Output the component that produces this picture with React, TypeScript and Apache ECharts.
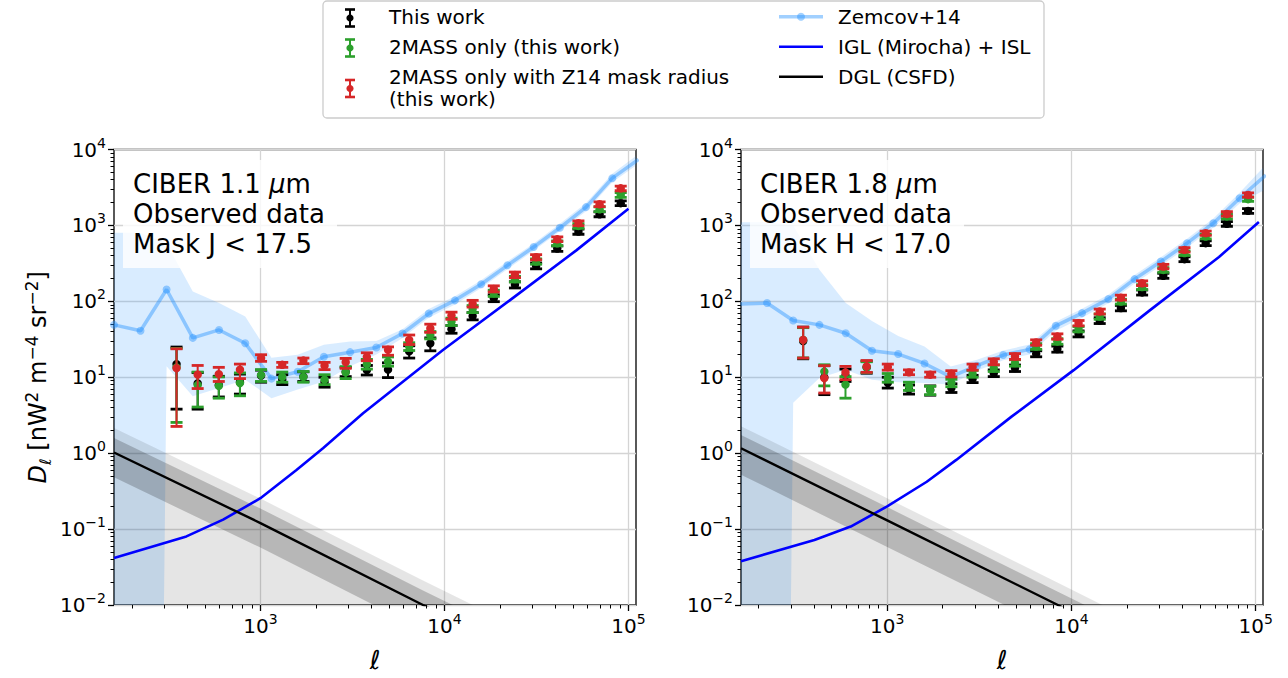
import React, { useEffect, useRef } from "react";
import * as echarts from "echarts";

// ---------------- data ----------------
const ELL_BINS = [350, 456, 594, 774, 1008, 1314, 1712, 2231, 2907, 3789, 4938, 6434, 8384, 10926, 14238, 18554, 24180, 31510, 41060, 53510, 69730, 90870];
const Z14_ELL = [160, 223, 309, 429, 596, 827, 1148, 1594, 2213, 3073, 4266, 5923, 8222, 11416, 15849, 22003, 30549, 42413, 58884, 81752, 113500];

// Left panel (CIBER 1.1 um)
const L_Z14 = [49, 41, 143, 33, 42, 28, 9.6, 11.8, 18.6, 21.4, 24.7, 37.7, 69, 103, 168, 298, 519, 931, 1742, 4188, 7400];
const L_Z14_HI = [800, 800, 575, 135, 95, 63, 18, 19.8, 26.8, 29.6, 30, 43, 79, 117, 190, 335, 580, 1050, 1980, 4800, 8700];
const L_Z14_LO = [0, 0, 14, 5.6, 7.2, 9.3, 5.3, 6.9, 8.8, 14, 20, 33, 61, 91, 150, 265, 465, 840, 1540, 3700, 6500];

const L_BLACK = [14.9, 8.3, 7.9, 8.6, 10.5, 9.3, 10.2, 8.6, 11.8, 12.4, 12.6, 21.9, 28, 43, 64, 110, 165, 293, 495, 828, 1403, 1960];
const L_BLACK_LO = [3.8, 3.8, 5.5, 6.0, 8.6, 8.0, 8.8, 7.4, 10.2, 10.7, 9.9, 17.9, 22.3, 38, 57, 99, 150, 268, 455, 765, 1300, 1820];
const L_BLACK_HI = [25, 11.5, 10.3, 11.0, 12.4, 10.8, 11.8, 10.0, 13.5, 14.3, 15.5, 26, 33, 48, 71, 122, 181, 320, 538, 895, 1510, 2110];
const L_GREEN = [13.5, 7.9, 7.7, 8.4, 10.7, 10.1, 10.1, 9.3, 11.6, 14.9, 16.1, 25.4, 36, 54, 79, 128, 196, 334, 582, 984, 1633, 2518];
const L_GREEN_LO = [2.54, 4.05, 5.3, 5.7, 8.8, 8.6, 8.6, 8.0, 9.6, 12.8, 14.0, 22.5, 32, 48, 71, 116, 180, 308, 540, 915, 1520, 2340];
const L_GREEN_HI = [24, 11.7, 10.1, 11.4, 12.6, 11.7, 11.9, 10.8, 13.8, 17.2, 18.5, 28.5, 40, 60, 88, 140, 213, 362, 626, 1055, 1750, 2700];
const L_RED = [13.2, 10.8, 11.0, 12.6, 17.9, 14.6, 16.6, 14.2, 15.8, 18.6, 23, 31, 44, 65, 93, 146, 223, 381, 657, 1069, 1900, 3083];
const L_RED_LO = [2.25, 7.1, 8.8, 9.6, 16.2, 13.5, 15.1, 12.6, 13.1, 16.5, 19.5, 27, 39, 58, 84, 133, 205, 352, 610, 995, 1770, 2860];
const L_RED_HI = [23.7, 14.3, 13.5, 14.9, 19.8, 15.7, 17.9, 15.7, 17.7, 21, 25.1, 36, 50, 72, 103, 160, 243, 412, 705, 1145, 2040, 3300];

const L_IGL_ELL = [160, 396, 627, 1000, 1570, 2188, 3614, 9820, 22650, 52100, 100100];
const L_IGL = [0.0416, 0.080, 0.133, 0.255, 0.60, 1.16, 3.35, 22.8, 103, 469, 1656];

const L_DGL_ELL = [160, 1000, 7650, 20000];
const L_DGL = [1.02, 0.12, 0.01, 0.0032];
const L_DGL_DARK_HI = [1.58, 0.186, 0.0155, 0.005];
const L_DGL_DARK_LO = [0.48, 0.057, 0.0047, 0.0015];
const L_DGL_LIGHT_HI = [2.15, 0.252, 0.021, 0.0067];
const L_DGL_LIGHT_LO = [0, 0, 0, 0];

// Right panel (CIBER 1.8 um)
const R_Z14 = [92, 95, 56, 49, 38, 22.3, 20.2, 15.2, 10.1, 14.2, 19.6, 23.3, 47.6, 70, 107, 196, 334, 583, 1070, 2280, 4600];
const R_Z14_HI = [1100, 1100, 1000, 260, 95, 55, 35, 25.4, 13.9, 17, 22.5, 27, 54, 80, 122, 222, 380, 665, 1230, 2700, 6300];
const R_Z14_LO = [0, 0, 4.6, 9.8, 12.6, 9.3, 8.6, 8.4, 8.0, 12.2, 16.8, 20, 41, 61, 94, 172, 294, 510, 940, 1950, 3000];

const R_BLACK = [30, 10, 10.5, 13.5, 8.4, 6.9, 6.8, 7.2, 9.5, 11.3, 13.2, 20.4, 23.5, 37.3, 55.8, 81.4, 131, 217, 359, 583, 1047, 1552];
const R_BLACK_LO = [17.5, 5.9, 8.8, 11.3, 7.2, 6.0, 5.8, 6.3, 8.5, 10.2, 11.9, 18.6, 21.4, 34, 51, 75, 121, 201, 333, 542, 975, 1445];
const R_BLACK_HI = [45.7, 14.2, 12.8, 16.3, 10.0, 7.9, 7.7, 8.2, 10.6, 12.5, 14.5, 22.3, 25.7, 40.8, 60.8, 88.3, 141, 234, 386, 625, 1120, 1660];
const R_GREEN = [31, 11.9, 8.0, 13.5, 9.8, 7.6, 6.7, 8.4, 11.1, 13.1, 15.4, 25.4, 29.6, 43, 63, 99, 154, 259, 431, 713, 1306, 2213];
const R_GREEN_LO = [18, 7.7, 5.3, 11.5, 8.6, 6.7, 5.9, 7.5, 10, 11.9, 14, 23.3, 27.2, 39.6, 58, 92, 143, 241, 402, 666, 1220, 2070];
const R_GREEN_HI = [45, 14.6, 10.2, 16, 11.2, 8.6, 7.6, 9.4, 12.3, 14.5, 17, 27.7, 32.2, 46.6, 68.2, 106.5, 165.5, 278, 461, 762, 1395, 2365];
const R_RED = [31.1, 9.75, 11.6, 13.9, 13.6, 11.6, 10.8, 11.1, 13.6, 16, 18.8, 28.7, 34.4, 51.6, 73.5, 112, 173, 287, 476, 789, 1416, 2518];
const R_RED_LO = [17.9, 6.2, 9.3, 11.6, 12.4, 10.8, 10.0, 10.1, 12.4, 14.6, 17.2, 26.4, 31.7, 47.6, 68, 104, 161, 268, 445, 738, 1325, 2355];
const R_RED_HI = [45.7, 14.2, 13.9, 16.6, 14.9, 12.5, 11.7, 12.2, 14.9, 17.5, 20.5, 31.1, 37.3, 55.9, 79, 120.5, 186, 307, 509, 843, 1513, 2690];

const R_IGL_ELL = [161, 403, 634, 1000, 1640, 2371, 4730, 10280, 26600, 63200, 104000];
const R_IGL = [0.0376, 0.072, 0.108, 0.199, 0.42, 0.815, 3.03, 12.4, 76, 384, 1106];

const R_DGL_ELL = [161, 1000, 8440, 20000];
const R_DGL = [1.16, 0.13, 0.01, 0.0035];
const R_DGL_DARK_HI = [1.74, 0.195, 0.015, 0.0053];
const R_DGL_DARK_LO = [0.52, 0.058, 0.0045, 0.0016];
const R_DGL_LIGHT_HI = [2.27, 0.255, 0.0196, 0.0069];
const R_DGL_LIGHT_LO = [0, 0, 0, 0];

// axes / ticks
const X_MAJOR = [1e3, 1e4, 1e5];
const Y_MAJOR = [1e-2, 1e-1, 1, 10, 100, 1e3, 1e4];
const MINOR_MULT = [2, 3, 4, 5, 6, 7, 8, 9];
const X_MINOR_DECADES = [100, 1000, 10000];
const Y_MINOR_DECADES = [0.01, 0.1, 1, 10, 100, 1000];
const LEFT_X_RANGE = [160, 110000];
const RIGHT_X_RANGE = [161, 109500];
const Y_RANGE = [0.01, 10000];

const PANEL_TEXT_L = ["CIBER 1.1 {i|μ}m", "Observed data", "Mask J < 17.5"];
const PANEL_TEXT_R = ["CIBER 1.8 {i|μ}m", "Observed data", "Mask H < 17.0"];

// ---------------- helpers ----------------
const FONT = '"DejaVu Sans", "Liberation Sans", sans-serif';
const FLOOR = 1e-30;
const C_BLACK = "#000000";
const C_GREEN = "#2ca02c";
const C_RED = "#d62728";
const C_Z14 = "rgba(30,144,255,0.42)";
const C_Z14_FILL = "rgba(30,144,255,0.17)";

const fmtPow = (v: number) => {
  const e = Math.round(Math.log10(v));
  return "{b|10}{s|" + String(e).replace("-", "−") + "}";
};
const POW_RICH = {
  b: { fontSize: 20, lineHeight: 28, fontFamily: FONT, color: "#000" },
  s: { fontSize: 14, lineHeight: 14, verticalAlign: "top", fontFamily: FONT, color: "#000" },
};

const minorList = (decades: number[]) => {
  const out: number[] = [];
  decades.forEach((d) => MINOR_MULT.forEach((m) => out.push(d * m)));
  return out;
};

function bandSeries(xs: number[], lo: number[], hi: number[], fill: string, ax: number, z: number) {
  return {
    type: "custom",
    xAxisIndex: ax,
    yAxisIndex: ax,
    z,
    silent: true,
    clip: true,
    data: [[xs[0], Math.max(hi[0], FLOOR)]],
    renderItem: (params: any, api: any) => {
      const pts: number[][] = [];
      for (let i = 0; i < xs.length; i++) pts.push(api.coord([xs[i], Math.max(hi[i], FLOOR)]));
      for (let i = xs.length - 1; i >= 0; i--) pts.push(api.coord([xs[i], Math.max(lo[i], FLOOR)]));
      const cs = params.coordSys;
      return {
        type: "group",
        clipPath: { type: "rect", shape: { x: cs.x, y: cs.y, width: cs.width, height: cs.height } },
        children: [{ type: "polygon", shape: { points: pts }, style: { fill, stroke: "none" } }],
      };
    },
  };
}

function errSeries(ys: number[], lo: number[], hi: number[], color: string, ax: number, z: number) {
  return {
    type: "custom",
    xAxisIndex: ax,
    yAxisIndex: ax,
    z,
    silent: true,
    clip: true,
    data: ELL_BINS.map((x, i) => [x, ys[i], lo[i], hi[i]]),
    encode: { x: 0, y: 1 },
    renderItem: (params: any, api: any) => {
      const x = api.value(0);
      const c = api.coord([x, api.value(1)]);
      const l = api.coord([x, api.value(2)]);
      const h = api.coord([x, api.value(3)]);
      const cap = 6;
      return {
        type: "group",
        children: [
          { type: "line", shape: { x1: c[0], y1: l[1], x2: c[0], y2: h[1] }, style: { stroke: color, lineWidth: 2 } },
          { type: "line", shape: { x1: c[0] - cap, y1: l[1], x2: c[0] + cap, y2: l[1] }, style: { stroke: color, lineWidth: 2.8 } },
          { type: "line", shape: { x1: c[0] - cap, y1: h[1], x2: c[0] + cap, y2: h[1] }, style: { stroke: color, lineWidth: 2.8 } },
          { type: "circle", shape: { cx: c[0], cy: c[1], r: 4.2 }, style: { fill: color } },
        ],
      };
    },
  };
}

function lineSeries(xs: number[], ys: number[], color: string, width: number, ax: number, z: number, symbol = false) {
  return {
    type: "line",
    xAxisIndex: ax,
    yAxisIndex: ax,
    z,
    silent: true,
    clip: true,
    data: xs.map((x, i) => [x, ys[i]]),
    showSymbol: symbol,
    symbol: symbol ? "circle" : "none",
    symbolSize: 8,
    itemStyle: { color },
    lineStyle: { color, width },
  };
}

const xMain = (g: number, range: number[]) => ({
  type: "log",
  logBase: 10,
  gridIndex: g,
  min: range[0],
  max: range[1],
  position: "bottom",
  axisLine: { show: false },
  axisTick: { show: true, customValues: X_MAJOR, length: 6, lineStyle: { color: "#000", width: 1.3 } },
  axisLabel: { show: true, customValues: X_MAJOR, formatter: fmtPow, rich: POW_RICH, margin: 7 },
  splitLine: { show: true, lineStyle: { color: "#d4d4d4", width: 1.3 } },
  name: "ℓ",
  nameLocation: "middle",
  nameGap: 42,
  nameTextStyle: { fontSize: 26, fontStyle: "italic", fontFamily: FONT, color: "#000" },
});
const xMinor = (g: number, range: number[]) => ({
  type: "log",
  logBase: 10,
  gridIndex: g,
  min: range[0],
  max: range[1],
  position: "bottom",
  axisLine: { show: false },
  axisLabel: { show: false },
  splitLine: { show: false },
  axisTick: { show: true, customValues: minorList(X_MINOR_DECADES), length: 3.5, lineStyle: { color: "#000", width: 1 } },
});
const yMain = (g: number, withName: boolean) => ({
  type: "log",
  logBase: 10,
  gridIndex: g,
  min: Y_RANGE[0],
  max: Y_RANGE[1],
  position: "left",
  axisLine: { show: false },
  axisTick: { show: true, customValues: Y_MAJOR, length: 6, lineStyle: { color: "#000", width: 1.3 } },
  axisLabel: { show: true, customValues: Y_MAJOR, formatter: fmtPow, rich: POW_RICH, margin: 8 },
  splitLine: { show: true, lineStyle: { color: "#d4d4d4", width: 1.3 } },
  ...(withName
    ? {
        name: "{d|D}{l|ℓ}{n| [nW}{s|2}{n| m}{s|−4}{n| sr}{s|−2}{n|]}",
        nameLocation: "middle",
        nameGap: 61,
        nameRotate: 90,
        nameTextStyle: {
          fontSize: 24,
          fontFamily: FONT,
          color: "#000",
          rich: {
            d: { fontSize: 24, lineHeight: 30, fontStyle: "italic", fontFamily: FONT, color: "#000" },
            n: { fontSize: 24, lineHeight: 30, fontFamily: FONT, color: "#000" },
            l: { fontSize: 16, lineHeight: 18, fontStyle: "italic", fontFamily: FONT, color: "#000", verticalAlign: "bottom" },
            s: { fontSize: 17, lineHeight: 17, fontFamily: FONT, color: "#000", verticalAlign: "top" },
          },
        },
      }
    : {}),
});
const yMinor = (g: number) => ({
  type: "log",
  logBase: 10,
  gridIndex: g,
  min: Y_RANGE[0],
  max: Y_RANGE[1],
  position: "left",
  axisLine: { show: false },
  axisLabel: { show: false },
  splitLine: { show: false },
  axisTick: { show: true, customValues: minorList(Y_MINOR_DECADES), length: 3.5, lineStyle: { color: "#000", width: 1 } },
});

function panelSeries(ax: number, d: any) {
  return [
    bandSeries(Z14_ELL, d.zLo, d.zHi, C_Z14_FILL, ax, 1),
    bandSeries(d.dglEll, d.dglLightLo, d.dglLightHi, "rgba(0,0,0,0.1)", ax, 1),
    bandSeries(d.dglEll, d.dglDarkLo, d.dglDarkHi, "rgba(0,0,0,0.2)", ax, 1),
    lineSeries(Z14_ELL, d.z, C_Z14, 3.5, ax, 3, true),
    lineSeries(d.iglEll, d.igl, "#0000ff", 2.6, ax, 4),
    lineSeries(d.dglEll, d.dgl, "#000000", 2.4, ax, 4),
    errSeries(d.black, d.blackLo, d.blackHi, C_BLACK, ax, 5),
    errSeries(d.green, d.greenLo, d.greenHi, C_GREEN, ax, 6),
    errSeries(d.red, d.redLo, d.redHi, C_RED, ax, 7),
  ];
}

function txt(x: number, y: number, s: string, size: number, extra: any = {}) {
  return {
    type: "text",
    x,
    y,
    z: 101,
    silent: true,
    style: { text: s, fill: "#000", fontSize: size, fontFamily: FONT, align: "left", verticalAlign: "middle", ...extra },
  };
}

function errIcon(cx: number, cy: number, color: string) {
  const h = 8.5;
  const w = 5;
  return [
    { type: "line", z: 101, silent: true, shape: { x1: cx, y1: cy - h, x2: cx, y2: cy + h }, style: { stroke: color, lineWidth: 2 } },
    { type: "line", z: 101, silent: true, shape: { x1: cx - w, y1: cy - h, x2: cx + w, y2: cy - h }, style: { stroke: color, lineWidth: 2.6 } },
    { type: "line", z: 101, silent: true, shape: { x1: cx - w, y1: cy + h, x2: cx + w, y2: cy + h }, style: { stroke: color, lineWidth: 2.6 } },
    { type: "circle", z: 101, silent: true, shape: { cx, cy, r: 3.6 }, style: { fill: color } },
  ];
}

function lineIcon(x1: number, x2: number, y: number, color: string, width: number, dot = false) {
  const els: any[] = [{ type: "line", z: 101, silent: true, shape: { x1, y1: y, x2, y2: y }, style: { stroke: color, lineWidth: width } }];
  if (dot) els.push({ type: "circle", z: 102, silent: true, shape: { cx: (x1 + x2) / 2, cy: y, r: 4 }, style: { fill: color } });
  return els;
}

function panelBox(x: number, lines: string[]) {
  const rich = { i: { fontSize: 26, fontStyle: "italic", fontFamily: FONT, fill: "#000" } };
  return [
    { type: "rect", z: 100, silent: true, shape: { x: x - 10, y: 160, width: 214, height: 108 }, style: { fill: "rgba(255,255,255,0.8)" } },
    txt(x, 184.3, lines[0], 26, { rich }),
    txt(x, 214.3, lines[1], 26),
    txt(x, 244.3, lines[2], 26),
  ];
}

export default function App() {
  const ref = useRef<HTMLDivElement>(null);
  useEffect(() => {
    if (!ref.current) return;
    const chart = echarts.init(ref.current, undefined, { renderer: "svg" });
    const left = {
      zLo: L_Z14_LO, zHi: L_Z14_HI, z: L_Z14,
      dglEll: L_DGL_ELL, dgl: L_DGL, dglDarkLo: L_DGL_DARK_LO, dglDarkHi: L_DGL_DARK_HI, dglLightLo: L_DGL_LIGHT_LO, dglLightHi: L_DGL_LIGHT_HI,
      iglEll: L_IGL_ELL, igl: L_IGL,
      black: L_BLACK, blackLo: L_BLACK_LO, blackHi: L_BLACK_HI,
      green: L_GREEN, greenLo: L_GREEN_LO, greenHi: L_GREEN_HI,
      red: L_RED, redLo: L_RED_LO, redHi: L_RED_HI,
    };
    const right = {
      zLo: R_Z14_LO, zHi: R_Z14_HI, z: R_Z14,
      dglEll: R_DGL_ELL, dgl: R_DGL, dglDarkLo: R_DGL_DARK_LO, dglDarkHi: R_DGL_DARK_HI, dglLightLo: R_DGL_LIGHT_LO, dglLightHi: R_DGL_LIGHT_HI,
      iglEll: R_IGL_ELL, igl: R_IGL,
      black: R_BLACK, blackLo: R_BLACK_LO, blackHi: R_BLACK_HI,
      green: R_GREEN, greenLo: R_GREEN_LO, greenHi: R_GREEN_HI,
      red: R_RED, redLo: R_RED_LO, redHi: R_RED_HI,
    };

    const legend: any[] = [
      { type: "rect", z: 100, silent: true, shape: { x: 323, y: 1, width: 721, height: 117, r: 4 }, style: { fill: "#ffffff", stroke: "#cccccc", lineWidth: 1.3 } },
      ...errIcon(350, 18, C_BLACK),
      ...errIcon(350, 48, C_GREEN),
      ...errIcon(350, 88.5, C_RED),
      txt(389, 16.7, "This work", 20),
      txt(389, 46.7, "2MASS only (this work)", 20),
      txt(389, 76.7, "2MASS only with Z14 mask radius", 20),
      txt(389, 99, "(this work)", 20),
      ...lineIcon(779, 823, 16.7, C_Z14, 3.5, true),
      ...lineIcon(779, 823, 46.7, "#0000ff", 2.6),
      ...lineIcon(779, 823, 76.7, "#000000", 2.6),
      txt(838, 16.7, "Zemcov+14", 20),
      txt(838, 46.7, "IGL (Mirocha) + ISL", 20),
      txt(838, 76.7, "DGL (CSFD)", 20),
    ];

    chart.setOption({
      animation: false,
      backgroundColor: "#ffffff",
      textStyle: { fontFamily: FONT },
      grid: [
        { left: 114, top: 149.5, width: 522, height: 455.5, show: true, borderColor: "#000", borderWidth: 1.3, backgroundColor: "transparent" },
        { left: 741, top: 149.5, width: 522, height: 455.5, show: true, borderColor: "#000", borderWidth: 1.3, backgroundColor: "transparent" },
      ],
      xAxis: [xMain(0, LEFT_X_RANGE), xMain(1, RIGHT_X_RANGE), xMinor(0, LEFT_X_RANGE), xMinor(1, RIGHT_X_RANGE)],
      yAxis: [yMain(0, true), yMain(1, false), yMinor(0), yMinor(1)],
      series: [...panelSeries(0, left), ...panelSeries(1, right)],
      graphic: { elements: [...legend, ...panelBox(133, PANEL_TEXT_L), ...panelBox(760, PANEL_TEXT_R)] },
    });
    return () => chart.dispose();
  }, []);
  return <div ref={ref} style={{ position: "absolute", left: 0, top: 0, width: 1288, height: 678 }} />;
}
